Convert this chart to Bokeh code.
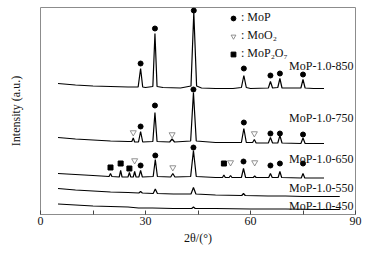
from bokeh.plotting import figure
from bokeh.models import Range1d, FixedTicker, Legend, LegendItem, ColumnDataSource
from bokeh.embed import file_html
from bokeh.resources import INLINE

# ---------------- data (2theta in degrees, intensity in a.u. with vertical offsets) -------------
x850 = [5, 10, 15, 20, 25, 27.9, 28.6, 29.2, 30, 32.1, 32.7, 33.3, 35, 40, 43.0, 43.8, 44.6,
        46, 50, 55, 57.4, 58.1, 58.8, 60, 65.1, 65.7, 66.3, 67.8, 68.4, 69, 74.4, 75, 75.6, 78, 81]
y850 = [131, 129.5, 128.5, 128, 127.5, 127.5, 146, 127.5, 127, 128, 181, 128, 127, 126.5, 128.5, 202, 128.5,
        126.5, 126, 126, 127, 139, 127, 126, 126.5, 133, 126.5, 127, 136, 126.5, 126.5, 135, 126.5, 126, 126]

x750 = [5, 10, 15, 20, 25, 26.1, 26.5, 26.9, 28.0, 28.6, 29.2, 32.1, 32.7, 33.3, 36.9, 37.6, 38.3,
        42.9, 43.7, 44.5, 50, 57.4, 58.1, 58.8, 60.6, 61.1, 61.6, 65.1, 65.7, 66.3, 67.8, 68.4, 69,
        74.4, 75, 75.6, 81]
y750 = [77, 75.5, 74.5, 73.5, 73, 73, 76.5, 72.5, 72.5, 83, 72.5, 73, 102, 73, 72.5, 75.5, 72.5,
        73.5, 122, 73.5, 72, 72, 86, 72, 72, 75, 71.5, 71.5, 77, 71.5, 71.5, 79, 71.5,
        71, 76.5, 71, 71]

x650 = [5, 10, 15, 19.6, 20.0, 20.4, 22.5, 22.9, 23.3, 25.0, 25.4, 25.8, 26.5, 26.9, 27.3, 28.1, 28.6, 29.1,
        32.2, 32.8, 33.4, 37.2, 37.8, 38.4, 42.9, 43.7, 44.5, 50, 52.0, 52.4, 52.8, 53.9, 54.3, 54.7,
        57.4, 58.0, 58.6, 60.8, 61.2, 61.6, 65.2, 65.7, 66.2, 67.9, 68.4, 68.9, 74.5, 75, 75.5, 81]
y650 = [41, 40, 39, 38, 41, 38, 37.5, 44, 37.5, 37.5, 42, 37.5, 37.5, 43, 37.5, 37.5, 44, 37.5,
        38, 55, 38, 37.5, 41, 37.5, 38, 64, 38, 37, 37, 39.5, 37, 37, 39, 37,
        37, 46, 37, 37, 38.5, 37, 37, 41, 37, 37, 43, 37, 36.5, 41, 36.5, 36.5]

x550 = [5, 10, 15, 20, 25, 28.1, 28.6, 29.1, 32.2, 32.8, 33.4, 38, 43.0, 43.7, 44.4, 50, 57.5, 58.0, 58.5,
        65, 70, 75, 80, 85.5]
y550 = [26, 24.5, 23.5, 22.5, 22, 21.5, 23, 21.5, 21, 25.5, 21, 20.5, 20.5, 27, 20.5, 19.5, 19, 21, 19,
        18.5, 18.5, 18, 18, 18]

x450 = [5, 10, 15, 20, 25, 28, 32, 38, 43.2, 43.7, 44.2, 50, 60, 70, 80, 85.5]
y450 = [10.5, 9.5, 8.5, 8, 7.5, 6.5, 6.5, 6, 6, 7.5, 6, 6, 5.5, 5.5, 5, 5]

# peak markers: MoP (dots), MoO2 (open down-triangles), MoP2O7 (squares)
mop_x = [28.6, 32.7, 43.8, 58.1, 65.7, 68.4, 75.0,
         28.6, 32.7, 43.7, 58.1, 65.7, 68.4, 75.0,
         28.6, 32.8, 43.7, 58.0, 65.7, 68.4, 75.0]
mop_y = [151, 186, 204, 146, 139, 141, 140,
         88, 109, 125, 92, 81, 81, 80,
         49, 59, 67, 53, 49, 51, 51]
moo2_x = [26.5, 37.6, 61.1, 26.9, 37.8, 54.3, 61.2]
moo2_y = [82, 80, 81, 54, 47, 52, 52]
mop2o7_x = [20.0, 22.9, 25.4, 52.4]
mop2o7_y = [47, 51, 46, 51]

sample_names = ["MoP-1.0-850", "MoP-1.0-750", "MoP-1.0-650", "MoP-1.0-550", "MoP-1.0-450"]
name_y = [149, 97, 56, 27, 9]

x_ticks = [0, 30, 60, 90]
x_minor = [15, 45, 75]

# ---------------- figure ----------------
SERIF = "Liberation Serif"
FRAME = "#8c8c8c"
TXT = "#111111"

p = figure(width=370, height=254, output_backend="svg", toolbar_location=None,
           x_range=Range1d(0, 90), y_range=Range1d(0, 207),
           min_border_left=40, min_border_right=15, min_border_top=7, min_border_bottom=40)
p.background_fill_color = "white"
p.border_fill_color = "white"
p.grid.visible = False
p.outline_line_color = FRAME
p.outline_line_width = 1

for xs, ys in [(x850, y850), (x750, y750), (x650, y650), (x550, y550), (x450, y450)]:
    p.line(xs, ys, line_color="black", line_width=1.2)

r_dot = p.scatter(mop_x, mop_y, marker="circle", size=5, fill_color="black", line_color="black")
r_tri = p.scatter(moo2_x, moo2_y, marker="inverted_triangle", size=6, fill_color="white",
                  line_color="#777777", line_width=0.8)
r_sq = p.scatter(mop2o7_x, mop2o7_y, marker="square", size=5, fill_color="black", line_color="black")

src = ColumnDataSource(dict(x=[89.4] * len(sample_names), y=name_y, t=sample_names))
p.text(x="x", y="y", text="t", source=src, text_align="right", text_baseline="middle",
       text_font=SERIF, text_font_size="12px", text_color=TXT)

# x axis
xa = p.xaxis[0]
xa.ticker = FixedTicker(ticks=x_ticks, minor_ticks=x_minor)
xa.axis_line_color = None
xa.major_tick_in = 4
xa.major_tick_out = 0
xa.minor_tick_in = 4
xa.minor_tick_out = 0
xa.major_tick_line_color = "#444444"
xa.minor_tick_line_color = "#444444"
xa.major_label_text_font = SERIF
xa.major_label_text_font_size = "12px"
xa.major_label_text_color = TXT
xa.major_label_standoff = 2
xa.axis_label = "2θ/(°)"
xa.axis_label_text_font = SERIF
xa.axis_label_text_font_size = "12px"
xa.axis_label_text_font_style = "normal"
xa.axis_label_text_color = TXT
xa.axis_label_standoff = 3

# y axis (no ticks, only the title)
ya = p.yaxis[0]
ya.ticker = FixedTicker(ticks=[])
ya.axis_line_color = None
ya.major_tick_line_color = None
ya.minor_tick_line_color = None
ya.major_label_standoff = 0
ya.axis_label = "Intensity (a.u.)"
ya.axis_label_text_font = SERIF
ya.axis_label_text_font_size = "12px"
ya.axis_label_text_font_style = "normal"
ya.axis_label_text_color = TXT
ya.axis_label_standoff = 18

legend = Legend(items=[LegendItem(label=": MoP", renderers=[r_dot]),
                       LegendItem(label=": MoO₂", renderers=[r_tri]),
                       LegendItem(label=": MoP₂O₇", renderers=[r_sq])],
                location=(187, 153), orientation="vertical",
                glyph_width=12, glyph_height=12, label_height=13, spacing=3,
                label_standoff=2, padding=0, margin=0,
                border_line_color=None, background_fill_alpha=0,
                label_text_font=SERIF, label_text_font_size="12px", label_text_color=TXT)
p.add_layout(legend, "center")

open("out.html", "w").write(file_html(p, INLINE))
